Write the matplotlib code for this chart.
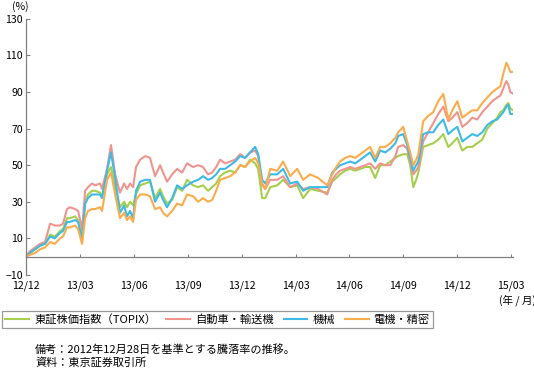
import matplotlib
matplotlib.use("Agg")
import matplotlib.pyplot as plt

plt.rcParams['font.family'] = ['Noto Sans CJK JP', 'DejaVu Sans']

# months elapsed since 2012/12/28
months = [0, 0.22, 0.50, 0.78, 1.06, 1.34, 1.61, 1.89, 2.06, 2.28, 2.45, 2.73, 2.90,
          3.12, 3.29, 3.45, 3.67, 3.84, 4.12, 4.23, 4.51, 4.73, 4.96, 5.23, 5.46, 5.62,
          5.79, 5.96, 6.12, 6.35, 6.63, 6.90, 7.18, 7.46, 7.63, 7.85, 8.13, 8.41, 8.69,
          8.96, 9.30, 9.58, 9.85, 10.13, 10.36, 10.58, 10.80, 11.08, 11.36, 11.64, 11.92,
          12.19, 12.47, 12.75, 12.92, 13.14, 13.31, 13.59, 13.98, 14.31, 14.70, 15.09,
          15.42, 15.81, 16.26, 16.76, 17.04, 17.26, 17.48, 17.76, 18.04, 18.32, 18.60,
          18.88, 19.15, 19.43, 19.71, 19.99, 20.27, 20.55, 20.71, 20.99, 21.21, 21.38,
          21.55, 21.71, 21.83, 22.10, 22.38, 22.66, 22.94, 23.22, 23.50, 23.72, 24.00,
          24.28, 24.55, 24.83, 25.11, 25.39, 25.67, 25.95, 26.22, 26.39, 26.56, 26.73,
          26.84, 26.95, 27.12]

topix = [0, 2, 4, 6, 7, 12, 11, 14, 15, 21, 21, 22, 20,
         11, 30, 34, 36, 36, 35, 33, 45, 49, 38, 27, 30, 27,
         30, 28, 34, 39, 40, 41, 32, 37, 33, 29, 31, 38, 36,
         42, 39, 38, 39, 36, 38, 40, 44, 46, 47, 46, 50,
         49, 53, 51, 48, 32, 32, 38, 39, 42, 38, 39,
         32, 37, 36, 35, 41, 43, 45, 47, 48, 47, 48,
         49, 49, 43, 50, 50, 52, 54, 55, 56, 56, 50,
         38, 42, 46, 60, 61, 62, 64, 67, 60, 62, 65,
         58, 60, 60, 62, 64, 70, 73, 76, 79, 80, 83,
         84, 81, 80]

auto = [0, 3, 5, 7, 8, 18, 17, 17, 18, 26, 27, 26, 25,
        15, 36, 38, 40, 39, 40, 37, 48, 61, 45, 35, 40, 37,
        40, 38, 49, 53, 55, 54, 44, 50, 46, 41, 45, 48, 46,
        51, 49, 50, 49, 45, 46, 49, 53, 51, 52, 53, 56,
        54, 57, 58, 55, 39, 37, 42, 42, 44, 38, 40,
        37, 38, 37, 34, 42, 45, 47, 48, 49, 48, 49,
        50, 51, 48, 51, 50, 50, 55, 60, 61, 59, 52,
        45, 47, 49, 63, 68, 73, 78, 82, 74, 76, 79,
        71, 73, 76, 75, 79, 82, 85, 87, 88, 92, 96,
        94, 90, 89]

machine = [0, 2, 4, 6, 7, 11, 10, 13, 14, 19, 19, 20, 19,
           9, 29, 32, 34, 34, 34, 32, 47, 57, 43, 24, 28, 22,
           25, 21, 36, 41, 42, 42, 30, 35, 31, 27, 32, 39, 37,
           39, 41, 42, 44, 42, 43, 45, 48, 48, 50, 52, 55,
           54, 57, 60, 56, 42, 40, 45, 45, 48, 40, 41,
           36, 38, 38, 38, 46, 48, 50, 51, 52, 51, 53,
           55, 57, 52, 58, 57, 59, 62, 66, 67, 61, 54,
           47, 50, 52, 67, 68, 68, 72, 75, 67, 69, 71,
           63, 65, 67, 66, 68, 72, 74, 75, 77, 79, 82,
           83, 78, 78]

electric = [0, 1, 2, 4, 5, 8, 7, 10, 11, 16, 16, 17, 15,
            7, 21, 25, 26, 26, 27, 25, 42, 46, 34, 21, 24, 20,
            22, 19, 31, 34, 34, 33, 26, 27, 24, 22, 25, 29, 28,
            34, 33, 30, 32, 30, 31, 36, 42, 43, 44, 46, 50,
            49, 52, 54, 51, 40, 37, 48, 47, 52, 44, 48,
            42, 45, 43, 39, 45, 49, 52, 54, 55, 54, 56,
            58, 60, 54, 60, 60, 62, 65, 68, 71, 63, 57,
            50, 53, 56, 74, 77, 79, 85, 89, 75, 80, 85,
            76, 78, 80, 80, 84, 87, 90, 92, 93, 100, 106,
            104, 101, 101]

series_names = ["東証株価指数（TOPIX）", "自動車・輸送機", "機械", "電機・精密"]
series_colors = ["#a5cf4c", "#f0948e", "#3dbbe6", "#fbac4c"]

tick_months = [0, 3, 6, 9, 12, 15, 18, 21, 24, 27]
tick_labels = ["12/12", "13/03", "13/06", "13/09", "13/12",
               "14/03", "14/06", "14/09", "14/12", "15/03"]
y_ticks = [-10, 10, 30, 50, 70, 90, 110, 130]

fs = 7.6
fig = plt.figure(figsize=(5.34, 3.71), dpi=100)
ax = fig.add_axes([0.0487, 0.259, 0.912, 0.690])

lines = []
for vals, name, col in zip([topix, auto, machine, electric], series_names, series_colors):
    ln, = ax.plot(months, vals, color=col, lw=1.5, label=name, solid_joinstyle='round')
    lines.append(ln)

ax.set_xlim(0, 27.1)
ax.set_ylim(-10, 130)
ax.set_yticks(y_ticks)
ax.set_xticks(tick_months)
ax.set_xticklabels(tick_labels)

ax.spines['top'].set_visible(False)
ax.spines['right'].set_visible(False)
ax.spines['bottom'].set_position(('data', 0))
for s in ['left', 'bottom']:
    ax.spines[s].set_color('#808080')
    ax.spines[s].set_linewidth(0.9)

ax.tick_params(axis='y', direction='in', length=3, width=0.8, color='#808080',
               labelsize=fs, pad=2)
ax.tick_params(axis='x', direction='in', length=2.5, width=0.8, color='#808080',
               labelsize=fs, pad=17)

fig.text(20 / 534, 1 - 7 / 371, "(%)", fontsize=fs, ha='center', va='center')
fig.text(517 / 534, 1 - 300 / 371, "(年 / 月)", fontsize=fs, ha='center', va='center')

leg = fig.legend(handles=lines, loc='upper left', bbox_to_anchor=(2 / 534, 1 - 311 / 371),
                 ncol=4, fontsize=8.1, frameon=True, fancybox=False,
                 handlelength=2.1, handletextpad=0.45, columnspacing=0.9,
                 borderpad=0.3, borderaxespad=0)
leg.get_frame().set_edgecolor('#808080')
leg.get_frame().set_linewidth(0.9)
for ln in leg.get_lines():
    ln.set_linewidth(1.5)

fig.text(35 / 534, 1 - 350 / 371, "備考：2012年12月28日を基準とする騰落率の推移。",
         fontsize=8.0, ha='left', va='center')
fig.text(35 / 534, 1 - 363 / 371, "資料：東京証券取引所",
         fontsize=8.0, ha='left', va='center')

fig.savefig("out.png", dpi=100)
